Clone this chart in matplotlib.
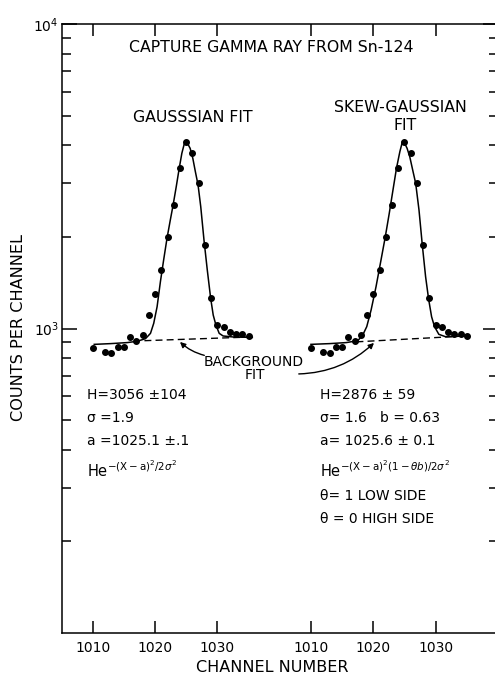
import numpy as np
import matplotlib.pyplot as plt
from matplotlib.ticker import NullFormatter, FixedLocator

# measured spectrum (same data shown in both panels)
channels = [1010, 1012, 1013, 1014, 1015, 1016, 1017, 1018, 1019, 1020, 1021, 1022, 1023,
            1024, 1025, 1026, 1027, 1028, 1029, 1030, 1031, 1032, 1033, 1034, 1035]
counts = [865, 835, 830, 870, 870, 935, 910, 950, 1105, 1300, 1555, 1990, 2545,
          3370, 4090, 3770, 3000, 1880, 1255, 1025, 1008, 977, 957, 957, 943]

# gaussian fit curve, traced
gauss_ch = [1010.25, 1012.9, 1015.56, 1017.15, 1018.47, 1019.27, 1019.79, 1020.33, 1020.86,
            1021.38, 1021.92, 1022.45, 1022.88, 1023.4, 1023.88, 1024.3, 1024.67, 1024.88,
            1025.2, 1025.63, 1026.06, 1026.47, 1026.9, 1027.33, 1027.85, 1028.38, 1028.92,
            1029.33, 1029.76, 1030.29, 1030.92, 1032.51, 1035.6]
gauss_fit = [887, 892, 899, 908, 926, 964, 1040, 1179, 1424, 1679, 1978, 2272, 2531, 2922,
             3360, 3762, 4027, 4088, 4057, 3906, 3620, 3272, 2960, 2512, 1952, 1556, 1257,
             1107, 1027, 964, 945, 938, 935]
gauss_bg_ch = [1018.3, 1035.5]
gauss_bg = [912, 938]

# skew-gaussian fit curve, traced
skew_ch = [1010.0, 1013.02, 1015.67, 1017.52, 1018.31, 1018.95, 1019.65, 1020.44, 1021.24,
           1021.92, 1022.56, 1023.2, 1023.72, 1024.26, 1024.67, 1024.99, 1025.42, 1025.85,
           1026.38, 1026.8, 1027.33, 1027.85, 1028.39, 1028.87, 1029.35, 1029.82, 1030.51,
           1031.57, 1034.75]
skew_fit = [887, 892, 899, 912, 952, 1014, 1150, 1372, 1679, 1998, 2388, 2886, 3360, 3807,
            4107, 4076, 3906, 3665, 3272, 2997, 2450, 1890, 1479, 1250, 1093, 1014, 957,
            940, 945]
skew_bg_ch = [1017.3, 1034.7]
skew_bg = [904, 945]

shift = 35  # right panel drawn 35 channels further along
tick_ch = [1010, 1020, 1030]

W, H = 495, 674
def px(x, y):
    return x / W, 1 - y / H

fig = plt.figure(figsize=(W / 100, H / 100), dpi=100)
ax = fig.add_axes([61.5 / W, 41 / H, 436.5 / W, 609 / H])

ch = np.array(channels)
ax.plot(ch, counts, "o", color="k", ms=4)
ax.plot(ch + shift, counts, "o", color="k", ms=4)
ax.plot(gauss_ch, gauss_fit, "-", color="k", lw=1.1)
ax.plot(np.array(skew_ch) + shift, skew_fit, "-", color="k", lw=1.1)
ax.plot(gauss_bg_ch, gauss_bg, color="k", lw=1, ls=(0, (5, 3)))
ax.plot(np.array(skew_bg_ch) + shift, skew_bg, color="k", lw=1, ls=(0, (5, 3)))

ax.set_yscale("log")
ax.set_ylim(100, 10000)
ax.set_xlim(1005, 1075)

ax.xaxis.set_major_locator(FixedLocator(tick_ch + [c + shift for c in tick_ch]))
ax.set_xticklabels([str(c) for c in tick_ch] * 2)
ax.xaxis.set_ticks_position("both")
ax.tick_params(axis="x", which="major", direction="in", length=8.6, width=1.1,
               pad=6, labelsize=10)
ax.set_yticks([1e3, 1e4])
ax.set_yticklabels(["$10^3$", "$10^4$"])
ax.yaxis.set_minor_formatter(NullFormatter())
ax.yaxis.set_ticks_position("both")
ax.tick_params(axis="y", which="major", direction="in", length=11, width=1.1,
               pad=2, labelsize=10)
ax.tick_params(axis="y", which="minor", direction="in", length=6.5, width=1.1)
for s in ax.spines.values():
    s.set_linewidth(1.1)

fs = 10
big = 11.3
fig.text(*px(271, 47), "CAPTURE GAMMA RAY FROM Sn-124", fontsize=big, ha="center", va="center")
fig.text(*px(193, 117), "GAUSSSIAN FIT", fontsize=big, ha="center", va="center")
fig.text(*px(400, 107), "SKEW-GAUSSIAN", fontsize=big, ha="center", va="center")
fig.text(*px(405, 126), "FIT", fontsize=big, ha="center", va="center")
fig.text(*px(254, 362), "BACKGROUND", fontsize=fs, ha="center", va="center")
fig.text(*px(255, 375), "FIT", fontsize=fs, ha="center", va="center")

# left annotations
fig.text(*px(87, 395), "H=3056 \u00b1104", fontsize=fs, va="center")
fig.text(*px(87, 418), "\u03c3 =1.9", fontsize=fs, va="center")
fig.text(*px(87, 441), "a =1025.1 \u00b1.1", fontsize=fs, va="center")
fig.text(*px(87, 477), r"He$^{-(\mathrm{X-a})^2/2\sigma^2}$", fontsize=10.5, va="baseline")

# right annotations
fig.text(*px(320, 395), "H=2876 \u00b1 59", fontsize=fs, va="center")
fig.text(*px(320, 418), "\u03c3= 1.6   b = 0.63", fontsize=fs, va="center")
fig.text(*px(320, 441), "a= 1025.6 \u00b1 0.1", fontsize=fs, va="center")
fig.text(*px(320, 477), r"He$^{-(\mathrm{X-a})^2(1-\theta b)/2\sigma^2}$", fontsize=10.5, va="baseline")
fig.text(*px(320, 496), "\u03b8= 1 LOW SIDE", fontsize=fs, va="center")
fig.text(*px(320, 519), "\u03b8 = 0 HIGH SIDE", fontsize=fs, va="center")

# arrows pointing at the background lines
ax.annotate("", xy=px(178, 340), xytext=px(207, 356), xycoords="figure fraction",
            textcoords="figure fraction",
            arrowprops=dict(arrowstyle="-|>", color="k", lw=1, mutation_scale=8,
                            connectionstyle="arc3,rad=-0.15"))
ax.annotate("", xy=px(376, 341), xytext=px(296, 374), xycoords="figure fraction",
            textcoords="figure fraction",
            arrowprops=dict(arrowstyle="-|>", color="k", lw=1, mutation_scale=8,
                            connectionstyle="arc3,rad=0.2"))

fig.text(*px(19, 327), "COUNTS PER CHANNEL", fontsize=11.6, rotation=90, ha="center", va="center")
fig.text(*px(272, 668), "CHANNEL NUMBER", fontsize=11.5, ha="center", va="center")

plt.savefig("out.png", dpi=100)
